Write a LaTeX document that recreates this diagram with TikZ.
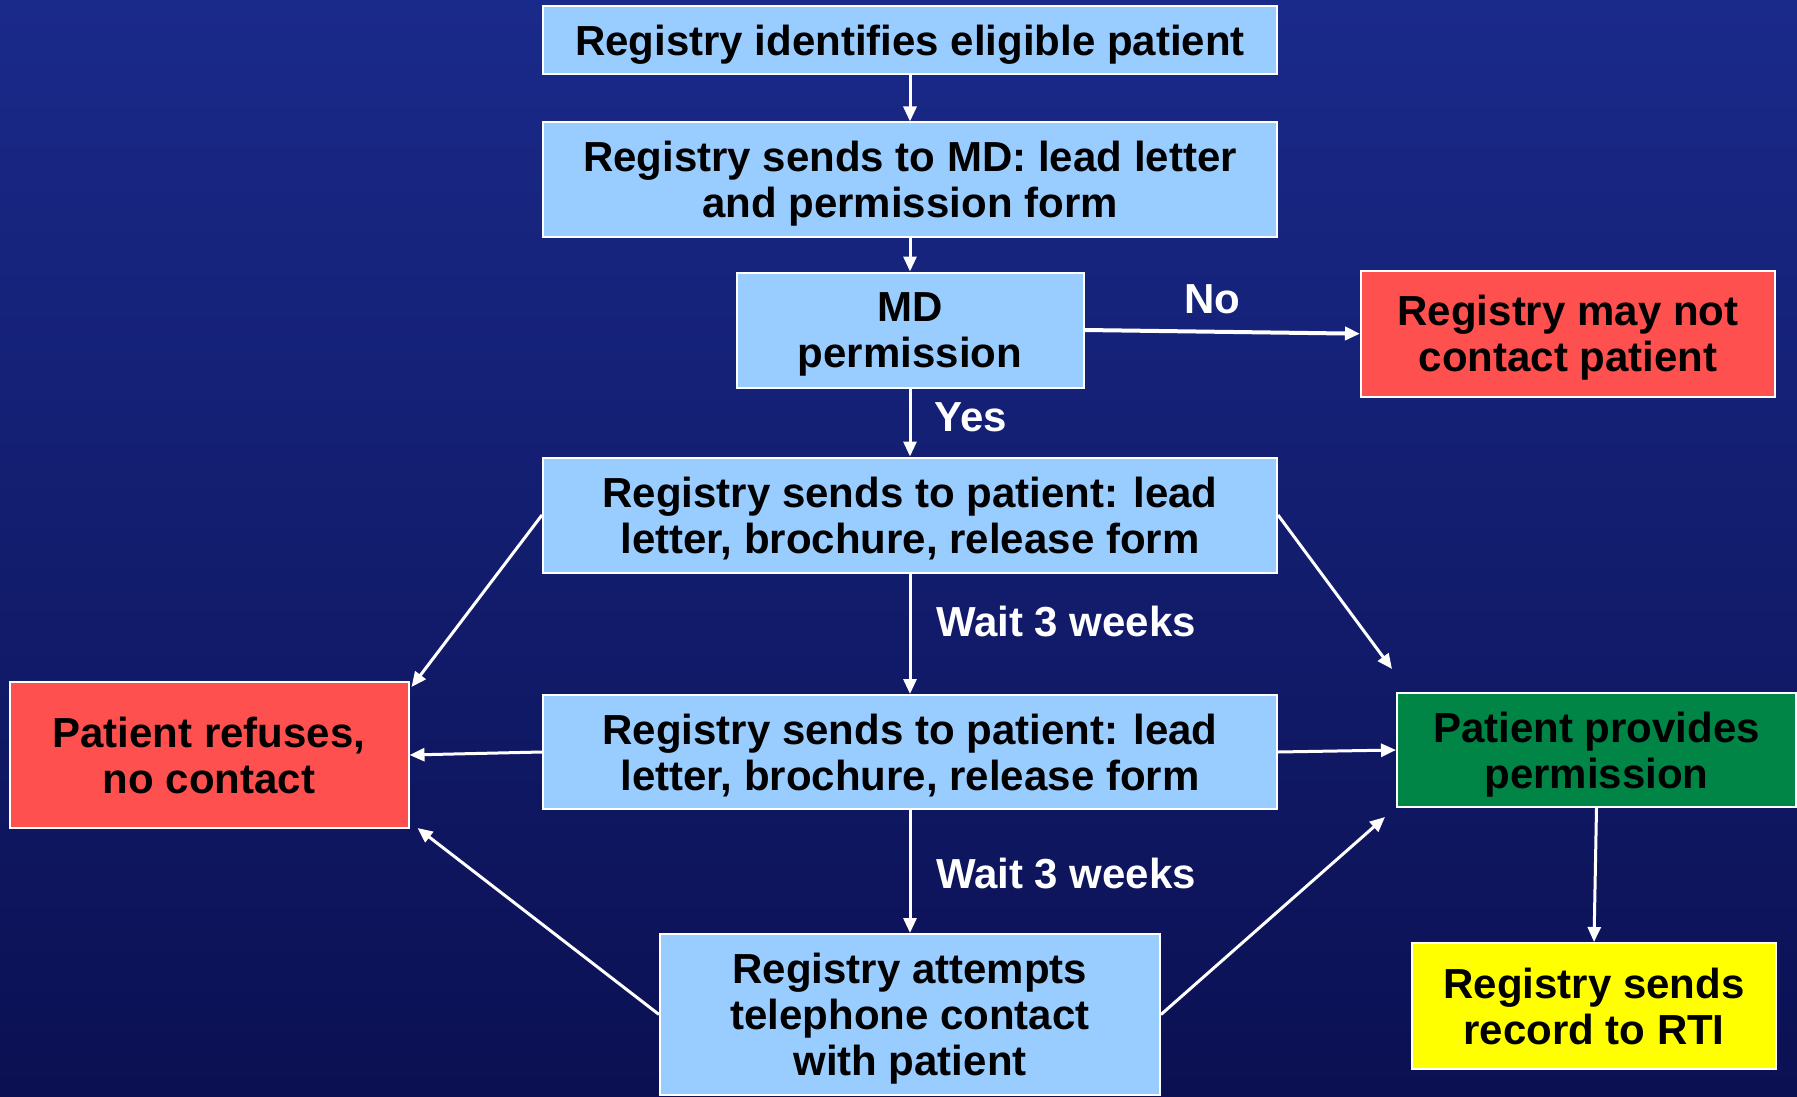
\documentclass[tikz,border=0pt]{standalone}
\usepackage{fontspec}
\setmainfont{Liberation Sans}
\usetikzlibrary{arrows.meta}
\definecolor{bgtop}{RGB}{26,42,138}
\definecolor{bgbot}{RGB}{11,16,82}
\definecolor{lblue}{RGB}{153,204,255}
\definecolor{rbox}{RGB}{255,80,80}
\definecolor{gbox}{RGB}{0,133,70}
\definecolor{ybox}{RGB}{255,255,0}
\begin{document}
\begin{tikzpicture}[x=1pt,y=-1pt,
  box/.style={draw=white, line width=2pt, inner sep=0pt, align=center, text depth=0pt,
    font=\fontsize{42}{46}\selectfont\bfseries, text=black},
  lbl/.style={text=white, font=\fontsize{42}{46}\selectfont\bfseries, inner sep=0pt},
  arr/.style={draw=white, line width=3pt, -{Triangle[length=15pt,width=13pt]}}]
\useasboundingbox (0,0) rectangle (1797,1097);
\shade[top color=bgtop, bottom color=bgbot] (0,0) rectangle (1797,1097);

\node[box, fill=lblue, minimum width=734pt, minimum height=68pt] (b1) at (910,40) {Registry identifies eligible patient};
\node[box, fill=lblue, minimum width=734pt, minimum height=114pt] (b2) at (910,179.5) {Registry sends to MD: lead letter\\and permission form};
\node[box, fill=lblue, minimum width=347pt, minimum height=115pt] (md) at (910,330) {MD\\permission};
\node[box, fill=rbox, minimum width=414pt, minimum height=126pt] (r1) at (1568,333.7) {Registry may not\\contact patient};
\node[box, fill=lblue, minimum width=734pt, minimum height=115pt] (b5) at (910,515) {Registry sends to patient: lead\\letter, brochure, release form};
\node[box, fill=lblue, minimum width=734pt, minimum height=114pt] (b6) at (910,752) {Registry sends to patient: lead\\letter, brochure, release form};
\node[box, fill=rbox, minimum width=399pt, minimum height=146pt] (r2) at (209,755) {Patient refuses,\\no contact};
\node[box, fill=gbox, minimum width=399pt, minimum height=114pt] (g) at (1596.5,750) {Patient provides\\permission};
\node[box, fill=lblue, minimum width=500pt, minimum height=161pt] (tel) at (910,1014.5) {Registry attempts\\telephone contact\\with patient};
\node[box, fill=ybox, minimum width=364pt, minimum height=126pt] (y) at (1594,1006) {Registry sends\\record to RTI};

\node[lbl, anchor=base] (no) at (1212,313) {No};
\node[lbl, anchor=base] (yes) at (971,431.7) {Yes};
\node[lbl, anchor=base] (w1) at (1066,636) {Wait 3 weeks};
\node[lbl, anchor=base] (w2) at (1066,888) {Wait 3 weeks};

\draw[arr] (b1.south) -- (b2.north);
\draw[arr] (b2.south) -- (md.north);
\draw[arr, line width=4pt] (md.east) -- (r1.west);
\draw[arr] (md.south) -- (b5.north);
\draw[arr] (b5.south) -- (b6.north);
\draw[arr] (b6.south) -- (tel.north);
\draw[arr] (b5.west) -- ([xshift=2pt,yshift=-6pt]r2.north east);
\draw[arr] (b6.west) -- (r2.east);
\draw[arr] (tel.west) -- ([xshift=8pt,yshift=1pt]r2.south east);
\draw[arr] (b5.east) -- ([xshift=-4pt,yshift=23pt]g.north west);
\draw[arr] (b6.east) -- (g.west);
\draw[arr] (tel.east) -- ([xshift=-11pt,yshift=-9pt]g.south west);
\draw[arr] (g.south) -- (y.north);
\end{tikzpicture}
\end{document}
